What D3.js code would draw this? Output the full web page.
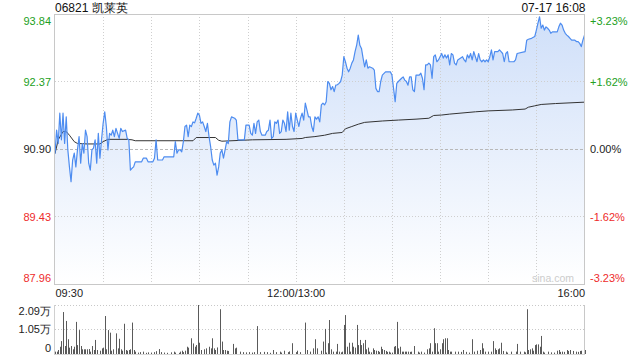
<!DOCTYPE html>
<html><head><meta charset="utf-8">
<script src="https://cdn.jsdelivr.net/npm/d3@7/dist/d3.min.js"></script>
<style>
html,body{margin:0;padding:0;background:#fff;}
svg{display:block;font-family:Arial,"Liberation Sans",sans-serif;}
</style></head><body>
<svg id="c" width="640" height="360"></svg>
<script>
// ---------- data ----------
const title = "06821 凯莱英";
const stamp = "07-17 16:08";
const prevClose = 90.90;
const priceTicks = [93.84, 92.37, 90.90, 89.43, 87.96];
const pctLabels = ["+3.23%", "+1.62%", "0.00%", "-1.62%", "-3.23%"];
const timeTickMinutes = [0, 150, 330];
const timeTickLabels = ["09:30", "12:00/13:00", "16:00"];
const volTicks = [2.09, 1.05, 0];
const volTickLabels = ["2.09万", "1.05万", "0"];

// trading minutes since 09:30 (lunch break removed), price
const priceMinutes = [0,1,2,3,4,5,6,7,8,9,10,11,12,13,14,15,16,17,18,19,20,21,22,23,24,25,26,27,28,29,30,31,32,33,34,35,36,37,38,39,40,41,42,44,45,46,47,48,49,50,54,55,57,58,61,62,63,64,67,68,74,75,76,77,78,79,80,81,82,83,84,85,86,87,88,89,90,91,92,93,94,95,96,97,98,99,100,101,102,103,104,105,106,107,108,109,110,112,113,114,118,119,121,122,123,124,125,126,127,128,129,131,132,133,134,135,136,137,138,139,140,141,142,143,144,145,146,147,148,149,150,151,152,153,154,155,156,157,158,159,160,161,162,163,164,165,166,167,168,169,170,171,172,173,174,175,176,177,178,179,180,181,182,183,184,185,186,187,188,189,190,191,192,193,194,195,196,198,199,200,201,202,203,204,206,209,210,211,212,213,214,216,217,218,219,220,221,222,223,224,225,227,228,229,230,231,232,233,234,235,236,237,238,239,240,241,242,243,244,245,246,247,248,249,250,251,254,255,256,257,258,259,260,261,262,263,264,265,266,267,268,269,270,271,272,273,274,276,277,278,279,280,281,282,283,286,287,288,293,294,295,297,299,300,301,302,303,304,305,306,307,308,309,310,313,314,315,316,317,318,319,320,321,322,324,325,326,327,328,329,330];
const prices = [90.80,91.31,91.02,91.68,91.10,91.68,91.02,91.60,90.88,90.51,90.19,90.66,90.81,90.51,90.88,91.17,90.59,91.02,90.81,91.31,91.17,90.59,90.44,90.88,90.92,91.10,90.59,91.24,90.70,91.10,91.46,91.71,91.39,90.88,91.24,91.20,91.31,91.17,91.35,91.24,91.13,91.35,91.28,91.31,91.13,91.10,90.44,90.48,90.51,90.62,90.62,90.70,90.70,90.62,90.62,90.70,91.10,90.66,90.66,90.73,90.73,91.06,90.81,90.88,90.88,90.84,91.06,91.39,91.42,91.17,91.42,91.39,91.49,91.47,91.57,91.68,91.64,91.46,91.49,91.39,91.28,91.46,91.17,90.95,90.66,90.55,90.59,90.33,90.51,90.81,90.88,90.70,90.88,91.06,91.02,91.49,91.60,91.57,91.53,91.10,91.10,91.42,91.42,91.24,91.20,91.46,91.24,91.49,91.53,91.28,91.20,91.20,91.28,91.31,91.53,91.13,91.17,91.49,91.46,91.53,91.24,91.28,91.53,91.46,91.28,91.71,91.31,91.68,91.39,91.28,91.68,91.53,91.39,91.57,91.68,91.53,91.90,91.75,91.60,91.60,91.39,91.28,91.60,91.55,91.60,91.49,91.86,91.90,91.86,91.93,92.37,92.33,92.19,92.26,92.15,92.29,92.30,92.33,92.37,92.51,92.91,92.80,92.66,92.58,92.66,92.77,92.84,93.02,93.16,93.38,93.16,93.09,92.88,92.69,92.84,92.66,92.69,92.66,92.62,92.22,92.15,92.15,92.37,92.51,92.58,92.58,92.51,92.22,91.93,92.33,92.37,92.44,92.47,92.40,92.37,92.29,92.47,92.47,92.19,92.15,92.51,92.51,92.55,92.44,92.19,92.73,92.73,92.77,92.73,92.44,92.91,92.95,92.80,92.84,92.91,92.98,92.88,92.95,92.88,92.95,92.73,92.98,92.95,92.77,92.73,92.84,92.91,92.84,92.80,92.95,92.88,92.98,92.84,93.02,92.91,92.80,92.98,92.84,92.80,92.84,92.80,92.84,92.80,92.91,93.06,92.84,93.02,93.02,93.06,93.02,92.98,92.80,92.98,93.02,92.80,92.80,92.84,92.98,93.02,93.27,93.29,93.31,93.35,93.49,93.64,93.78,93.53,93.60,93.49,93.56,93.53,93.49,93.42,93.45,93.45,93.56,93.64,93.60,93.49,93.42,93.38,93.35,93.31,93.27,93.27,93.24,93.24,93.20,93.13,93.27,93.38];

// average price line
const avgMinutes = [0,2,5,7,9,12,14,20,28,30,33,45,48,50,86,88,100,102,104,123,144,154,156,162,168,173,179,181,185,189,193,204,214,225,233,236,241,246,262,270,285,293,295,299,303,312,330];
const avgPrices = [90.80,91.10,91.28,91.28,91.20,91.06,91.02,91.01,91.01,91.06,91.11,91.11,91.10,91.08,91.08,91.15,91.15,91.09,91.07,91.10,91.11,91.13,91.15,91.17,91.20,91.24,91.26,91.34,91.39,91.44,91.48,91.51,91.53,91.55,91.57,91.63,91.64,91.66,91.71,91.73,91.75,91.77,91.81,91.84,91.87,91.89,91.92];

// volume per minute, in 万股
const volMinutes = [0,1,2,3,4,5,6,7,8,9,10,11,12,13,14,15,16,17,18,19,20,21,22,23,24,25,26,28,29,30,31,32,33,34,35,36,38,39,40,41,42,43,44,45,46,47,48,49,50,52,53,55,57,58,60,62,63,65,66,68,70,72,74,75,77,78,79,80,81,82,83,85,86,87,88,89,90,91,93,94,96,97,98,99,100,101,103,104,105,106,107,108,111,112,113,115,117,119,121,123,124,126,128,130,132,134,136,138,140,141,143,145,146,148,150,151,153,156,157,159,161,162,163,166,167,168,169,170,171,172,173,175,176,177,178,179,180,181,182,183,184,185,186,187,188,189,190,191,192,193,194,195,196,197,198,199,200,201,202,203,204,205,206,207,208,209,210,211,212,213,214,215,216,217,218,219,220,221,222,224,226,227,228,230,232,233,234,235,236,237,238,239,240,241,242,243,244,245,246,247,249,251,253,254,256,258,260,261,263,265,266,267,268,270,272,273,274,275,276,277,278,279,281,282,284,287,288,290,292,293,294,295,296,297,298,299,300,301,302,303,304,305,307,309,311,313,314,315,316,317,319,320,321,323,325,326,327,328,330];
const volumes = [0.10,0.10,0.17,0.31,0.55,1.79,0.34,1.41,0.63,0.27,0.34,0.20,0.31,1.37,0.38,1.02,0.34,0.20,0.20,0.20,0.20,0.21,0.10,0.34,0.17,0.60,0.17,0.14,0.24,0.27,1.62,0.20,1.02,0.91,0.14,0.20,0.88,0.24,0.65,0.20,0.14,1.29,0.17,0.14,0.17,0.20,1.34,0.17,0.10,0.06,0.08,0.10,0.05,0.07,0.06,0.08,0.12,0.21,0.08,0.06,0.05,0.07,0.10,0.06,0.05,0.10,0.14,0.08,0.14,0.31,0.27,0.67,0.45,0.31,0.38,2.09,0.48,0.17,0.20,0.24,0.31,0.24,0.67,0.24,0.17,0.28,1.91,0.53,0.17,0.17,0.14,0.13,0.43,0.24,0.27,0.10,0.08,0.07,0.08,0.06,0.08,1.19,0.08,0.09,0.08,0.05,0.17,0.08,0.10,0.06,0.14,0.08,0.11,0.46,0.08,0.14,0.08,1.34,0.17,0.10,0.24,0.63,0.24,0.14,0.53,1.07,0.06,0.46,1.45,0.20,0.10,0.10,0.43,0.10,0.07,0.10,1.24,1.66,0.31,0.48,0.10,0.48,0.31,0.27,1.24,0.38,0.60,0.38,0.46,0.60,0.20,0.27,0.10,0.07,0.24,0.17,0.14,0.13,0.09,0.31,0.21,0.17,0.13,0.09,0.10,0.06,0.06,0.31,0.34,1.37,0.24,0.31,0.10,0.10,0.10,0.10,0.10,0.09,0.10,0.34,0.10,0.06,0.10,0.06,0.20,0.24,0.46,0.10,1.10,0.46,0.46,0.10,0.20,0.46,0.63,0.67,0.67,0.17,0.10,0.10,0.10,0.10,0.09,0.17,0.09,0.06,0.63,0.10,0.14,0.17,0.46,0.24,0.10,0.10,0.10,0.55,0.24,0.17,0.20,0.24,0.48,0.13,0.10,0.06,0.10,0.10,0.43,0.10,0.10,0.07,1.91,0.17,0.20,0.24,0.14,0.38,0.41,0.41,0.31,0.77,0.10,0.06,0.10,0.07,0.06,0.14,0.17,0.09,0.10,0.09,0.17,0.13,0.17,0.13,0.10,0.09,0.13,0.14,0.17];

// ---------- drawing ----------
const svg = d3.select("#c");
const L = 55, R = 584.5, PT = 14, PB = 284, VT = 305, VB = 354;
const x = d3.scaleLinear().domain([0, 330]).range([L, R]);
const y = d3.scaleLinear().domain([87.96, 93.84]).range([PB, PT]);
const yv = d3.scaleLinear().domain([0, 2.09]).range([VB, VT]);

const green = "#22a022", red = "#ee2b2b", black = "#222";
const tickColor = d => d > prevClose ? green : (d < prevClose ? red : black);

const defs = svg.append("defs");
const grad = defs.append("linearGradient").attr("id", "fillGrad")
  .attr("gradientUnits", "userSpaceOnUse").attr("x1", 0).attr("x2", 0).attr("y1", PT).attr("y2", PB);
grad.append("stop").attr("offset", 0).attr("stop-color", "#cfdff9");
grad.append("stop").attr("offset", 1).attr("stop-color", "#ffffff");

// header
svg.append("text").attr("x", L).attr("y", 12).attr("font-size", 12).attr("fill", "#111").text(title);
svg.append("text").attr("x", R + 1).attr("y", 12).attr("font-size", 12).attr("fill", "#111").attr("text-anchor", "end").text(stamp);

// price data
const pts = priceMinutes.map((m, i) => ({m, p: prices[i]}));
const avg = avgMinutes.map((m, i) => ({m, p: avgPrices[i]}));

// area fill
svg.append("path").datum(pts)
  .attr("fill", "url(#fillGrad)")
  .attr("d", d3.area().x(d => x(d.m)).y0(PB).y1(d => y(d.p)));

// grid
const grid = svg.append("g");
grid.selectAll("line.h").data(priceTicks.slice(1, -1)).join("line")
  .attr("x1", L).attr("x2", R)
  .attr("y1", d => Math.round(y(d)) + 0.5).attr("y2", d => Math.round(y(d)) + 0.5)
  .attr("stroke", d => d === prevClose ? "#b8b8b8" : "#cfcfcf")
  .attr("stroke-dasharray", d => d === prevClose ? "3,2" : "1,2");
grid.selectAll("line.v").data(d3.range(30, 330, 30)).join("line")
  .attr("y1", PT).attr("y2", PB)
  .attr("x1", d => Math.round(x(d)) + 0.5).attr("x2", d => Math.round(x(d)) + 0.5)
  .attr("stroke", "#cfcfcf").attr("stroke-dasharray", "1,2");

// avg line
svg.append("path").datum(avg).attr("fill", "none").attr("stroke", "#333").attr("stroke-width", 1)
  .attr("d", d3.line().x(d => x(d.m)).y(d => y(d.p)));

// price line
svg.append("path").datum(pts).attr("fill", "none").attr("stroke", "#4d8cf0").attr("stroke-width", 1.2)
  .attr("stroke-linejoin", "round")
  .attr("d", d3.line().x(d => x(d.m)).y(d => y(d.p)));

// border
svg.append("rect").attr("x", L - 0.5).attr("y", PT + 0.5).attr("width", R - L + 0.5).attr("height", PB - PT)
  .attr("fill", "none").attr("stroke", "#c8c8c8");

// watermark
svg.append("text").attr("x", 574).attr("y", 282).attr("text-anchor", "end").attr("font-size", 10.5)
  .attr("fill", "#cccccc").text("sina.com");

// left price axis
const yl = svg.append("g").attr("transform", `translate(${L},0)`)
  .call(d3.axisLeft(y).tickValues(priceTicks).tickSize(0).tickPadding(4).tickFormat(d3.format(".2f")));
yl.select(".domain").remove();
yl.selectAll("text").attr("font-size", 11).attr("font-family", "Arial, 'Liberation Sans', sans-serif")
  .attr("fill", d => tickColor(d))
  .attr("transform", (d, i) => i === 0 ? "translate(0,7)" : (i === priceTicks.length - 1 ? "translate(0,-6.5)" : null));

// right pct axis
const yr = svg.append("g").attr("transform", `translate(${R},0)`)
  .call(d3.axisRight(y).tickValues(priceTicks).tickSize(0).tickPadding(5.5).tickFormat((d, i) => pctLabels[i]));
yr.select(".domain").remove();
yr.selectAll("text").attr("font-size", 11).attr("font-family", "Arial, 'Liberation Sans', sans-serif")
  .attr("fill", d => tickColor(d))
  .attr("transform", (d, i) => i === 0 ? "translate(0,7)" : (i === priceTicks.length - 1 ? "translate(0,-6.5)" : null));

// time axis
const xa = svg.append("g").attr("transform", `translate(0,${PB})`)
  .call(d3.axisBottom(x).tickValues(timeTickMinutes).tickSize(0).tickPadding(5).tickFormat((d, i) => timeTickLabels[i]));
xa.select(".domain").remove();
xa.selectAll("text").attr("font-size", 11).attr("font-family", "Arial, 'Liberation Sans', sans-serif").attr("fill", "#222")
  .attr("text-anchor", (d, i) => i === 0 ? "start" : (i === timeTickMinutes.length - 1 ? "end" : "middle"));

// volume panel
const vg = svg.append("g");
vg.append("line").attr("x1", L).attr("x2", R).attr("y1", VT + 0.5).attr("y2", VT + 0.5)
  .attr("stroke", "#c8c8c8").attr("stroke-dasharray", "1,2");
vg.append("line").attr("x1", L).attr("x2", R).attr("y1", Math.round(yv(1.05)) + 0.5).attr("y2", Math.round(yv(1.05)) + 0.5)
  .attr("stroke", "#c8c8c8").attr("stroke-dasharray", "1,2");
vg.append("line").attr("x1", L - 0.5).attr("x2", L - 0.5).attr("y1", VT).attr("y2", VB + 1).attr("stroke", "#d0d0d0");
vg.append("line").attr("x1", R).attr("x2", R).attr("y1", VT).attr("y2", VB + 1).attr("stroke", "#c8c8c8");
vg.append("line").attr("x1", L).attr("x2", R).attr("y1", VB + 0.5).attr("y2", VB + 0.5).attr("stroke", "#d8d8d8");

const vols = volMinutes.map((m, i) => ({m, v: volumes[i]}));
vg.selectAll("line.bar").data(vols).join("line")
  .attr("x1", d => Math.round(x(d.m)) + 0.5).attr("x2", d => Math.round(x(d.m)) + 0.5)
  .attr("y1", yv(0)).attr("y2", d => yv(d.v))
  .attr("stroke", "#5a5a5a").attr("stroke-width", 1);

const va = svg.append("g").attr("transform", `translate(${L},0)`)
  .call(d3.axisLeft(yv).tickValues(volTicks).tickSize(0).tickPadding(4).tickFormat((d, i) => volTickLabels[i]));
va.select(".domain").remove();
va.selectAll("text").attr("font-size", 11).attr("font-family", "Arial, 'Liberation Sans', sans-serif").attr("fill", "#222")
  .attr("transform", (d, i) => i === 0 ? "translate(0,6)" : (i === volTicks.length - 1 ? "translate(0,-6)" : null));
</script>
</body></html>
